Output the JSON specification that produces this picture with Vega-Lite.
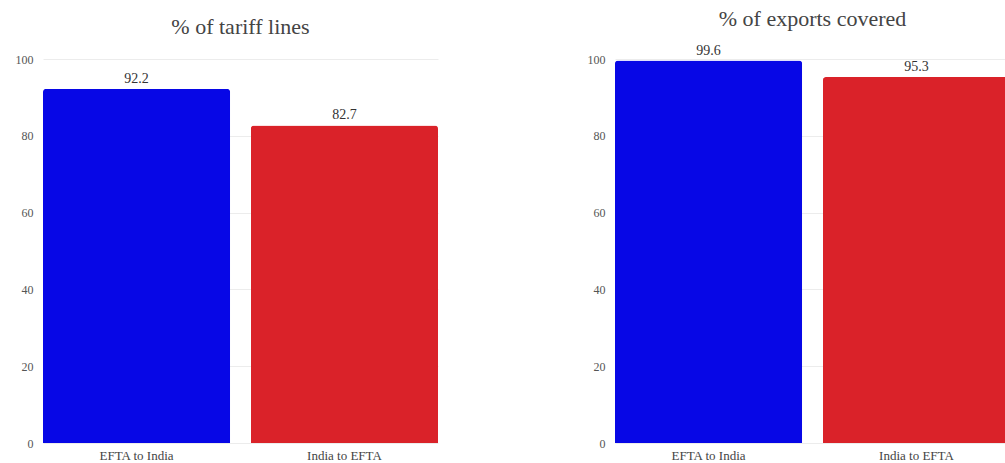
{
  "$schema": "https://vega.github.io/schema/vega-lite/v6.json",
  "background": "white",
  "padding": {"left": 15, "top": 7, "right": 0, "bottom": 0},
  "bounds": "flush",
  "spacing": 177,
  "config": {
    "font": "'Liberation Serif', 'Times New Roman', serif",
    "view": {"stroke": null},
    "title": {"fontSize": 22, "fontWeight": "normal", "color": "#444444", "font": "'Liberation Serif', 'Times New Roman', serif", "anchor": "middle"},
    "axisY": {"grid": true, "gridColor": "#ececec", "domain": false, "ticks": false, "tickSize": 0, "labelPadding": 10, "labelFontSize": 12, "labelColor": "#555555", "labelFont": "'Liberation Serif', serif", "title": null},
    "axisX": {"grid": false, "domain": false, "ticks": false, "tickSize": 0, "labelPadding": 6, "labelFontSize": 13, "labelColor": "#444444", "labelFont": "'Liberation Serif', serif", "labelAngle": 0, "title": null},
    "bar": {"cornerRadiusTopLeft": 3, "cornerRadiusTopRight": 3},
    "text": {"fontSize": 14, "color": "#333333", "baseline": "bottom", "dy": -3, "font": "'Liberation Serif', serif"}
  },
  "datasets": {
    "tariff": [
      {"direction": "EFTA to India", "value": 92.2},
      {"direction": "India to EFTA", "value": 82.7}
    ],
    "exports": [
      {"direction": "EFTA to India", "value": 99.6},
      {"direction": "India to EFTA", "value": 95.3}
    ]
  },
  "hconcat": [
    {
      "title": {"text": "% of tariff lines", "offset": 14},
      "width": 395,
      "height": 384,
      "data": {"name": "tariff"},
      "encoding": {
        "x": {"field": "direction", "type": "nominal", "scale": {"paddingInner": 0.1, "paddingOuter": 0}},
        "y": {"field": "value", "type": "quantitative", "scale": {"domain": [0, 100]}, "axis": {"values": [0, 20, 40, 60, 80, 100]}}
      },
      "layer": [
        {
          "mark": "bar",
          "encoding": {
            "color": {"field": "direction", "type": "nominal", "scale": {"domain": ["EFTA to India", "India to EFTA"], "range": ["#0707E6", "#DA2229"]}, "legend": null}
          }
        },
        {
          "mark": "text",
          "encoding": {"text": {"field": "value", "type": "quantitative", "format": ".1f"}}
        }
      ]
    },
    {
      "title": {"text": "% of exports covered", "offset": 13},
      "width": 395,
      "height": 384,
      "data": {"name": "exports"},
      "encoding": {
        "x": {"field": "direction", "type": "nominal", "scale": {"paddingInner": 0.1, "paddingOuter": 0}},
        "y": {"field": "value", "type": "quantitative", "scale": {"domain": [0, 100]}, "axis": {"values": [0, 20, 40, 60, 80, 100]}}
      },
      "layer": [
        {
          "mark": "bar",
          "encoding": {
            "color": {"field": "direction", "type": "nominal", "scale": {"domain": ["EFTA to India", "India to EFTA"], "range": ["#0707E6", "#DA2229"]}, "legend": null}
          }
        },
        {
          "mark": "text",
          "encoding": {"text": {"field": "value", "type": "quantitative", "format": ".1f"}}
        }
      ]
    }
  ]
}
